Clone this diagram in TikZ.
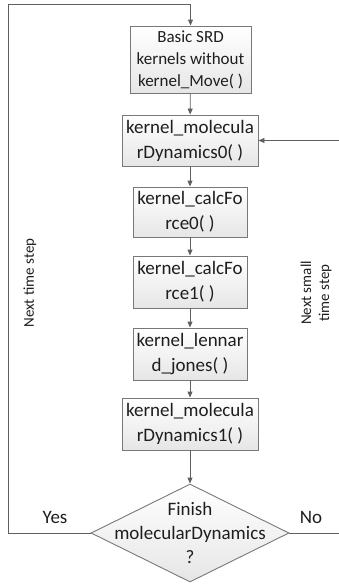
\documentclass[tikz,border=0pt]{standalone}
\usepackage{fontspec}
\setmainfont{Carlito}
\usetikzlibrary{shapes.geometric,arrows.meta}
\definecolor{edgegray}{RGB}{120,120,120}
\definecolor{linegray}{RGB}{95,95,95}
\definecolor{fillgray}{RGB}{230,230,230}
\definecolor{inkgray}{RGB}{30,30,30}
\tikzset{
  kbox/.style={draw=edgegray, line width=0.9pt, top color=white, bottom color=fillgray,
    inner sep=0pt, align=center, text=inkgray, font=\fontsize{19}{25}\selectfont},
  decision/.style={draw=edgegray, line width=0.9pt, shape=diamond, inner sep=0pt,
    top color=white, bottom color=fillgray, minimum width=198pt, minimum height=98pt},
  flow/.style={draw=linegray, line width=0.9pt, -{Triangle[length=6pt,width=5pt]}},
  lbl/.style={text=inkgray, font=\fontsize{19}{24}\selectfont, align=center, inner sep=0pt}
}
\begin{document}
\begin{tikzpicture}[x=1pt,y=-1pt]
\useasboundingbox (0,0) rectangle (339,584);

% process boxes
\node[kbox, minimum width=121pt, minimum height=67pt, font=\fontsize{17}{22}\selectfont]
  (b1) at (190.5,59.5) {Basic SRD\\kernels without\\kernel\_Move( )};
\node[kbox, minimum width=136pt, minimum height=51pt] (b2) at (190,140.5)
  {kernel\_molecula\\rDynamics0( )};
\node[kbox, minimum width=114pt, minimum height=50pt] (b3) at (190,212)
  {kernel\_calcFo\\rce0( )};
\node[kbox, minimum width=114pt, minimum height=52pt] (b4) at (190,282)
  {kernel\_calcFo\\rce1( )};
\node[kbox, minimum width=114pt, minimum height=52pt] (b5) at (190,354)
  {kernel\_lennar\\d\_jones( )};
\node[kbox, minimum width=136pt, minimum height=52pt] (b6) at (190,424)
  {kernel\_molecula\\rDynamics1( )};

% decision
\node[decision] (dia) at (190,533) {};
\node[lbl] (diatext) at (190,533) {Finish\\molecularDynamics\\?};

% loop corners
\coordinate (cl) at (8,4);
\coordinate (cr) at (340,140.5);

% main chain
\draw[flow] (b1) -- (b2);
\draw[flow] (b2) -- (b3);
\draw[flow] (b3) -- (b4);
\draw[flow] (b4) -- (b5);
\draw[flow] (b5) -- (b6);
\draw[flow] (b6) -- (dia);

% outer loop: next time step
\draw[flow] (dia.west) -| (cl) -| (b1.north);
% inner loop: next small time step
\draw[flow] (dia.east) -| (cr) -- (b2.east);

% labels
\node[lbl] (yes) at (55,517) {Yes};
\node[lbl] (no) at (311,517) {No};
\node[lbl, rotate=90, font=\fontsize{15}{18}\selectfont] (nts) at (30,283) {Next time step};
\node[lbl, rotate=90, font=\fontsize{15}{18}\selectfont] (nsts) at (316,293) {Next small\\time step};
\end{tikzpicture}
\end{document}
